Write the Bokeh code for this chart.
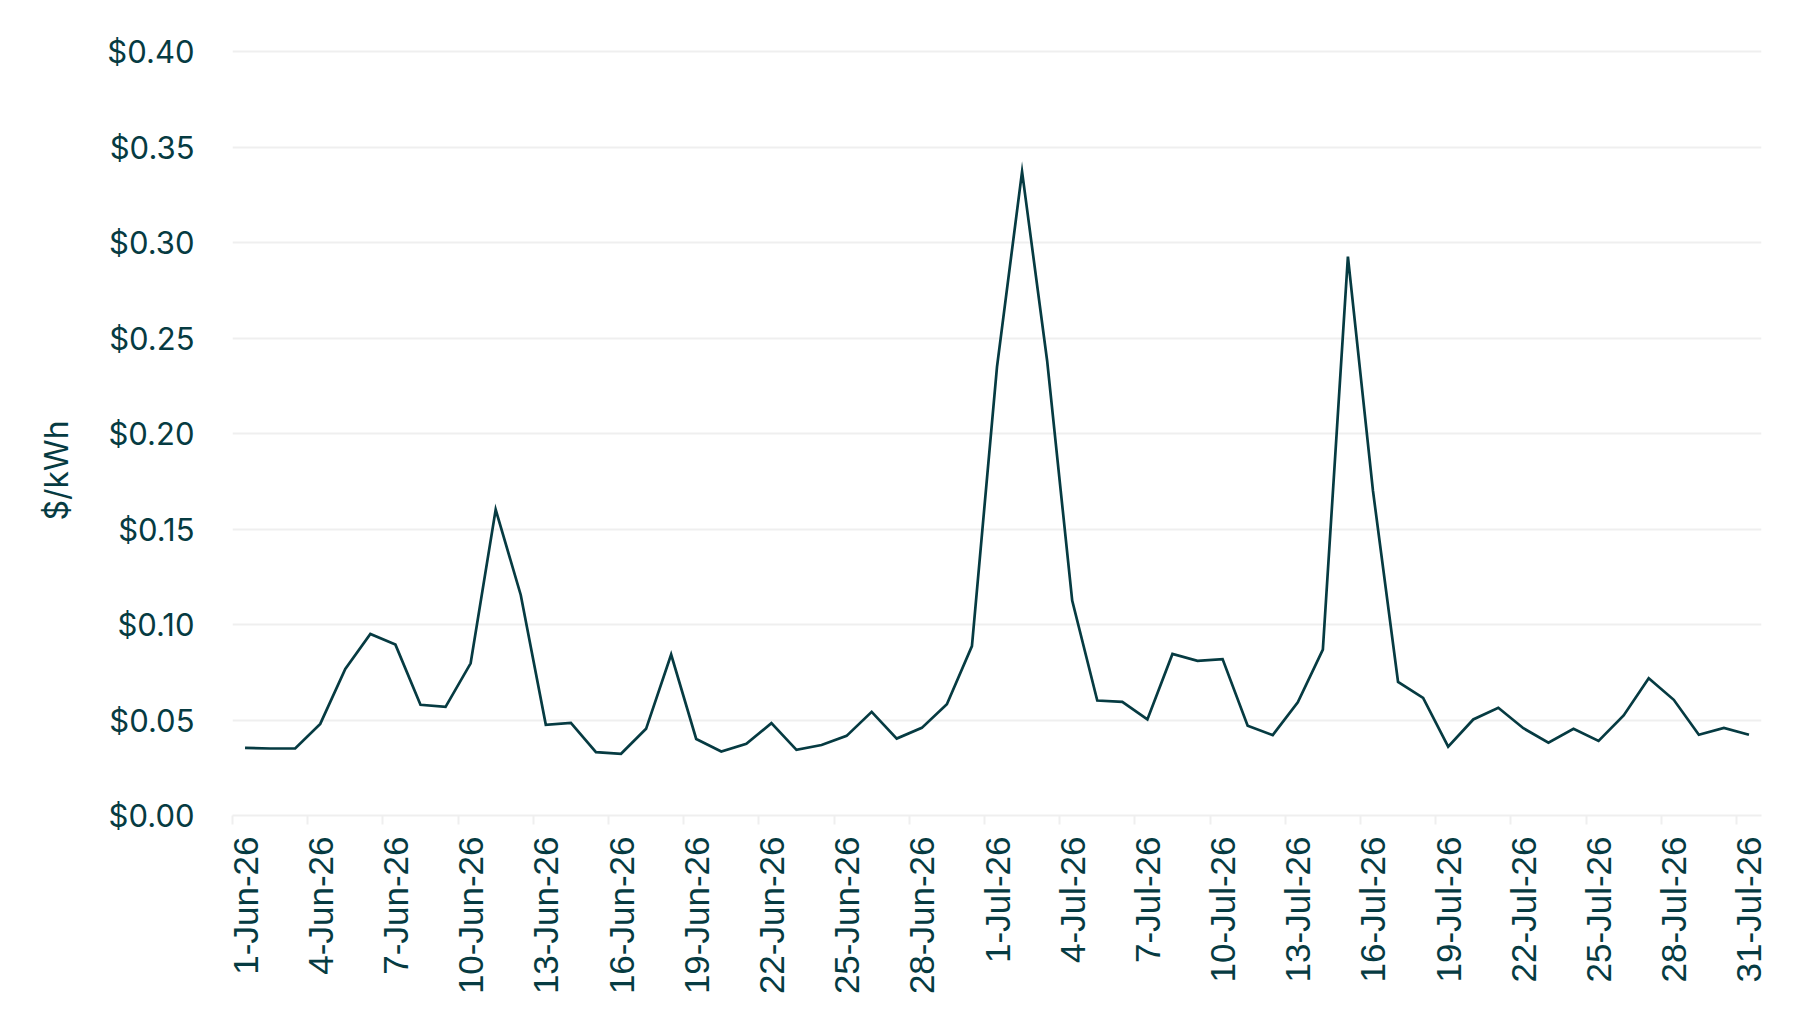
import math
import pandas as pd
from bokeh.plotting import figure
from bokeh.models import (Range1d, LinearAxis, FixedTicker, NumeralTickFormatter,
                          ColumnDataSource, Title)
from bokeh.embed import file_html
from bokeh.resources import INLINE

# ---- data -------------------------------------------------------------
start_date = "2026-06-01"
end_date = "2026-07-31"
june_prices = [0.0354, 0.0351, 0.0351, 0.0480, 0.0768, 0.0951, 0.0895, 0.0580,
               0.0569, 0.0797, 0.1602, 0.1155, 0.0475, 0.0485, 0.0332, 0.0323,
               0.0454, 0.0843, 0.0401, 0.0335, 0.0375, 0.0484, 0.0344, 0.0369,
               0.0417, 0.0543, 0.0403, 0.0459, 0.0583, 0.0887]
july_prices = [0.2350, 0.3372, 0.2382, 0.1126, 0.0602, 0.0595, 0.0503, 0.0846,
               0.0810, 0.0819, 0.0470, 0.0421, 0.0593, 0.0869, 0.2927, 0.1700,
               0.0700, 0.0616, 0.0361, 0.0503, 0.0564, 0.0457, 0.0381, 0.0454,
               0.0391, 0.0524, 0.0719, 0.0606, 0.0423, 0.0459, 0.0423]
y_ticks = [0.0, 0.05, 0.10, 0.15, 0.20, 0.25, 0.30, 0.35, 0.40]
label_step = 3
y_title = "$/kWh"

prices = june_prices + july_prices
dates = pd.date_range(start_date, end_date, freq="D")
date_labels = [f"{d.day}-{d.strftime('%b')}-{d.strftime('%y')}" for d in dates]
day_index = list(range(len(dates)))
x_centers = [i + 0.5 for i in day_index]

DARK = "#063b42"
GRID = "#efefef"

src = ColumnDataSource(dict(x=x_centers, price=prices, date=date_labels))

p = figure(width=1798, height=1010, output_backend="svg", toolbar_location=None,
           x_range=Range1d(0, len(dates)),
           y_range=Range1d(y_ticks[0], y_ticks[-1] + 0.0012),
           x_axis_location=None, y_axis_location=None,
           min_border_left=232, min_border_top=49, min_border_right=37,
           min_border_bottom=195)
p.outline_line_color = None
p.background_fill_color = "white"
p.border_fill_color = "white"
p.xgrid.visible = False

p.line("x", "price", source=src, line_color=DARK, line_width=2.7, line_join="miter")

# y axis
yax = LinearAxis(ticker=FixedTicker(ticks=y_ticks),
                 formatter=NumeralTickFormatter(format="$0.00"))
yax.axis_line_color = None
yax.major_tick_out = 0
yax.major_tick_in = 0
yax.minor_tick_out = 0
yax.minor_tick_in = 0
yax.major_label_standoff = 38
yax.major_label_text_font = "Inter"
yax.major_label_text_font_size = "31px"
yax.major_label_text_color = DARK
p.add_layout(yax, "left")

p.ygrid.ticker = FixedTicker(ticks=y_ticks)
p.ygrid.grid_line_color = GRID
p.ygrid.grid_line_width = 2

# x axis: tick marks at day boundaries
boundaries = [i for i in day_index if i % label_step == 0]
xtick_ax = LinearAxis(ticker=FixedTicker(ticks=boundaries))
xtick_ax.major_label_overrides = {b: "" for b in boundaries}
xtick_ax.major_label_text_font_size = "0px"
xtick_ax.major_label_standoff = 0
xtick_ax.axis_line_color = GRID
xtick_ax.axis_line_width = 2
xtick_ax.major_tick_line_color = GRID
xtick_ax.major_tick_line_width = 2
xtick_ax.major_tick_out = 9
xtick_ax.major_tick_in = 0
xtick_ax.minor_tick_out = 0
xtick_ax.minor_tick_in = 0
p.add_layout(xtick_ax, "below")

# x axis: date labels centred on each day
label_pos = [x_centers[i] for i in boundaries]
xlab_ax = LinearAxis(ticker=FixedTicker(ticks=label_pos))
xlab_ax.major_label_overrides = {x_centers[i]: date_labels[i] for i in boundaries}
xlab_ax.axis_line_color = None
xlab_ax.major_tick_out = 0
xlab_ax.major_tick_in = 0
xlab_ax.minor_tick_out = 0
xlab_ax.minor_tick_in = 0
xlab_ax.major_label_orientation = math.pi / 2
xlab_ax.major_label_standoff = 12
xlab_ax.major_label_text_font = "Liberation Sans"
xlab_ax.major_label_text_font_size = "35px"
xlab_ax.major_label_text_color = DARK
p.add_layout(xlab_ax, "below")

# y title
t = Title(text=y_title, align="left", offset=295, standoff=58,
          text_font="Inter", text_font_size="32px", text_font_style="normal",
          text_color=DARK)
p.add_layout(t, "left")

open("out.html", "w").write(file_html(p, INLINE))
